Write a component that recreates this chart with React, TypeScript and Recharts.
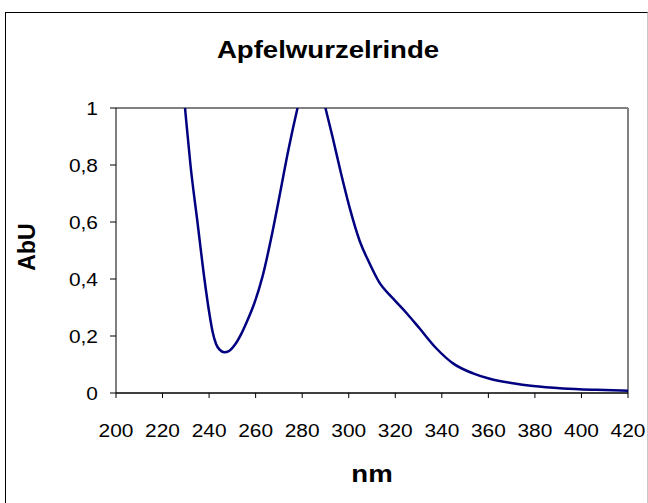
import React from "react";
import { LineChart, Line, XAxis, YAxis, ReferenceLine } from "recharts";

const wavelengths = [226, 228, 230, 232, 235, 238, 240, 241.5, 243, 244.5, 246.5, 248.5, 251, 254, 256.5, 259.4, 263, 266.6, 270, 274, 278, 281, 284, 287, 290, 293, 296.7, 300.3, 304.6, 309, 313, 319, 325, 330.4, 337.6, 344.8, 353.4, 360.6, 370.6, 379.2, 392, 406.5, 420];
const absorbance = [1.33, 1.15, 0.97, 0.8, 0.6, 0.4, 0.285, 0.215, 0.172, 0.152, 0.143, 0.147, 0.168, 0.21, 0.255, 0.314, 0.41, 0.54, 0.68, 0.85, 1.0, 1.1, 1.15, 1.1, 1.0, 0.9, 0.77, 0.653, 0.536, 0.454, 0.39, 0.332, 0.279, 0.227, 0.157, 0.104, 0.069, 0.05, 0.034, 0.0245, 0.016, 0.011, 0.008];
const xTicks = [200, 220, 240, 260, 280, 300, 320, 340, 360, 380, 400, 420];
const yTicks = [0, 0.2, 0.4, 0.6, 0.8, 1];
const yTickLabels = ["0", "0,2", "0,4", "0,6", "0,8", "1"];
const title = "Apfelwurzelrinde";
const xLabel = "nm";
const yLabel = "AbU";

const data = wavelengths.map((nm, i) => ({ nm, v: absorbance[i] }));

const FONT = "'Liberation Sans', Arial, sans-serif";

const XTick = (props: any) => {
  const { x, y, payload } = props;
  return (
    <text transform={`translate(${x},${y + 37}) scale(1.1,1)`} textAnchor="middle" fontFamily={FONT} fontSize={19} fill="#000">
      {payload.value}
    </text>
  );
};

const YTick = (props: any) => {
  const { x, y, payload } = props;
  const idx = yTicks.indexOf(payload.value);
  return (
    <text transform={`translate(${x - 10},${y + 7}) scale(1.1,1)`} textAnchor="end" fontFamily={FONT} fontSize={19} fill="#000">
      {idx >= 0 ? yTickLabels[idx] : payload.value}
    </text>
  );
};

export default function App() {
  return (
    <div style={{ position: "absolute", left: 0, top: 0, width: 648, height: 503, overflow: "hidden", background: "#fff" }}>
      <div
        style={{
          position: "absolute",
          left: 5,
          top: 12,
          width: 641,
          height: 600,
          borderLeft: "1px solid #000",
          borderTop: "1px solid #000",
          borderRight: "1px solid #c8c8c8",
        }}
      />
      <div style={{ position: "absolute", left: 0, top: 0 }}>
        <LineChart width={648} height={503} data={data} margin={{ top: 108, right: 20, bottom: 50, left: 56 }}>
          <XAxis
            dataKey="nm"
            type="number"
            domain={[200, 420]}
            ticks={xTicks}
            interval={0}
            height={60}
            axisLine={{ stroke: "#000", strokeWidth: 1.5 }}
            tickLine={{ stroke: "#000" }}
            tickSize={5}
            tick={<XTick />}
          />
          <YAxis
            type="number"
            domain={[0, 1]}
            ticks={yTicks}
            allowDataOverflow
            interval={0}
            width={60}
            axisLine={{ stroke: "#000", strokeWidth: 1 }}
            tickLine={{ stroke: "#000" }}
            tickSize={6}
            tick={<YTick />}
          />
          <ReferenceLine y={1} stroke="#808080" strokeWidth={2} />
          <ReferenceLine x={420} stroke="#808080" strokeWidth={2} />
          <Line
            type="monotone"
            dataKey="v"
            stroke="#000080"
            strokeWidth={2.5}
            dot={false}
            isAnimationActive={false}
          />
        </LineChart>
      </div>
      <svg width={648} height={503} style={{ position: "absolute", left: 0, top: 0, pointerEvents: "none" }}>
        <text transform="translate(328,58) scale(1.2,1)" textAnchor="middle" fontFamily={FONT} fontWeight="bold" fontSize={23} fill="#000">
          {title}
        </text>
        <text transform="translate(372,482) scale(1.15,1)" textAnchor="middle" fontFamily={FONT} fontWeight="bold" fontSize={24} fill="#000">
          {xLabel}
        </text>
        <text transform="translate(35,247) rotate(-90)" textAnchor="middle" fontFamily={FONT} fontWeight="bold" fontSize={23} fill="#000">
          {yLabel}
        </text>
      </svg>
    </div>
  );
}
